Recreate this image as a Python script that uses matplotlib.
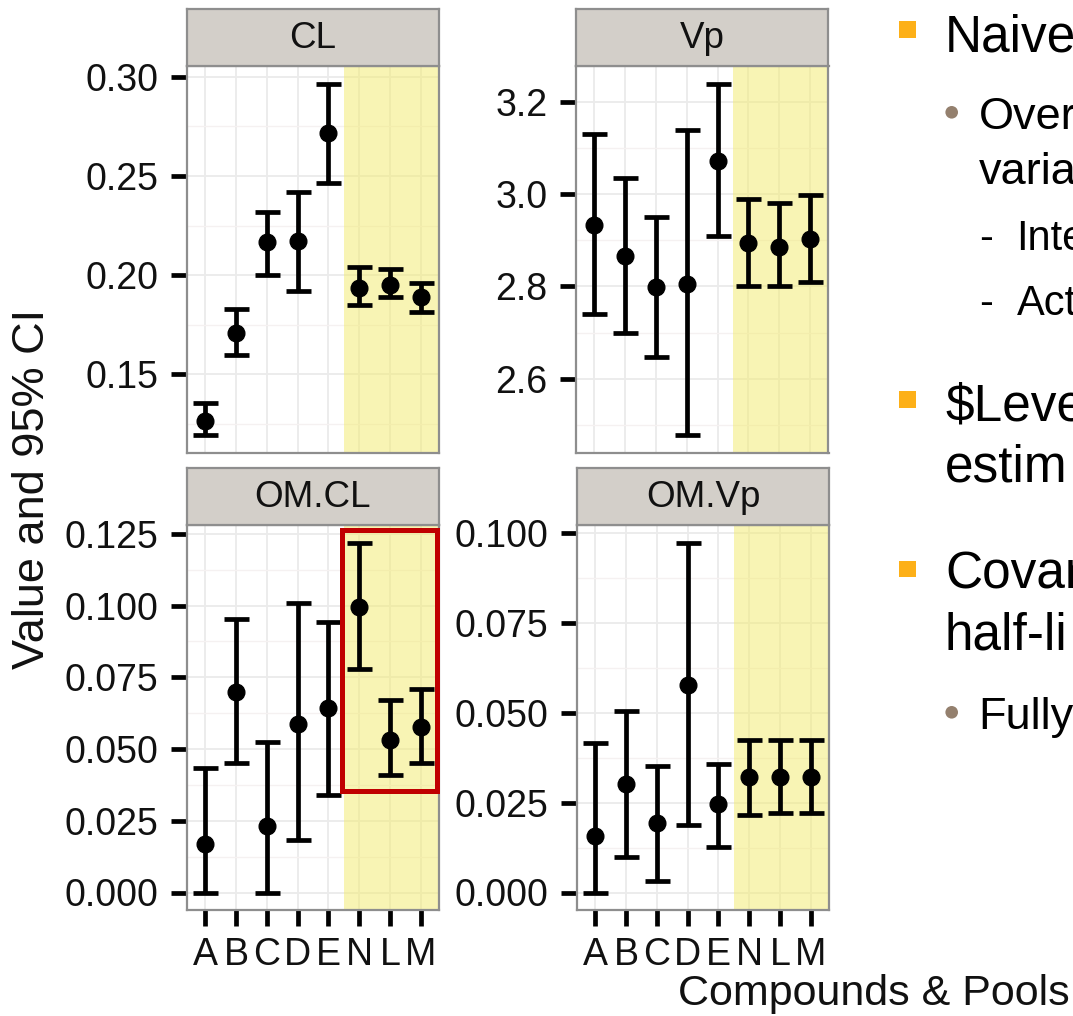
import matplotlib
matplotlib.use("Agg")
import matplotlib.pyplot as plt
from matplotlib.patches import Rectangle, Ellipse
import numpy as np

plt.rcParams['font.family'] = ['Liberation Sans', 'DejaVu Sans']

# ---------------- data ----------------
categories = ["A", "B", "C", "D", "E", "N", "L", "M"]

cl_est = [0.1265, 0.171, 0.2165, 0.2172, 0.2717, 0.1937, 0.1952, 0.1890]
cl_lo = [0.1193, 0.160, 0.2002, 0.1920, 0.2465, 0.1848, 0.1890, 0.1817]
cl_hi = [0.1358, 0.1832, 0.2320, 0.2420, 0.2965, 0.2040, 0.2032, 0.1960]

vp_est = [2.934, 2.865, 2.799, 2.805, 3.071, 2.895, 2.886, 2.904]
vp_lo = [2.741, 2.698, 2.646, 2.478, 2.909, 2.800, 2.800, 2.809]
vp_hi = [3.131, 3.036, 2.950, 3.139, 3.240, 2.990, 2.980, 2.998]

omcl_est = [0.0169, 0.0698, 0.0232, 0.0589, 0.0644, 0.0994, 0.0532, 0.0576]
omcl_lo = [0.0, 0.0450, 0.0, 0.0182, 0.0341, 0.0780, 0.0409, 0.0450]
omcl_hi = [0.0435, 0.0954, 0.0524, 0.1009, 0.0943, 0.1220, 0.0670, 0.0711]

omvp_est = [0.0156, 0.0303, 0.0194, 0.0578, 0.0245, 0.0321, 0.0321, 0.0321]
omvp_lo = [0.0, 0.0099, 0.0032, 0.0188, 0.0127, 0.0216, 0.0222, 0.0222]
omvp_hi = [0.0417, 0.0506, 0.0353, 0.0974, 0.0358, 0.0424, 0.0424, 0.0424]

panel_titles = ["CL", "Vp", "OM.CL", "OM.Vp"]
cl_ticks = [0.15, 0.20, 0.25, 0.30]
vp_ticks = [2.6, 2.8, 3.0, 3.2]
omcl_ticks = [0.000, 0.025, 0.050, 0.075, 0.100, 0.125]
omvp_ticks = [0.000, 0.025, 0.050, 0.075, 0.100]
tick_fmt = ["{:.2f}", "{:.1f}", "{:.3f}", "{:.3f}"]

y_label = "Value and 95% CI"
x_label = "Compounds & Pools"

pool_start = 5.5          # yellow band begins between E and N
highlight_x = (5.435, 8.54)
highlight_y = (0.0354, 0.1265)

slide_lines = [
    # (text, level)
    ("Naive", 1), ("Over", 2), ("varia", 2), ("Inte", 3), ("Act", 3),
    ("$Leve", 1), ("estim", 1), ("Covar", 1), ("half-li", 1), ("Fully", 2),
]

# ---------------- layout ----------------
W, H = 1073, 1016
fig = plt.figure(figsize=(W / 100, H / 100), dpi=100)
fig.patch.set_facecolor("white")


def px_axes(l, t, r, b):
    return fig.add_axes([l / W, 1 - b / H, (r - l) / W, (b - t) / H])


boxes = [(187, 66, 439, 453), (576, 66, 828.5, 452.5),
         (187, 525, 439, 910), (577, 525, 829, 910)]
series = [(cl_est, cl_lo, cl_hi, cl_ticks), (vp_est, vp_lo, vp_hi, vp_ticks),
          (omcl_est, omcl_lo, omcl_hi, omcl_ticks),
          (omvp_est, omvp_lo, omvp_hi, omvp_ticks)]

border = "#8E8E8E"
strip_fill = "#D3CFC9"
strip_h = 57
x = np.arange(1, len(categories) + 1)

axes = []
for i, (box, (est, lo, hi, ticks)) in enumerate(zip(boxes, series)):
    l, t, r, b = box
    ax = px_axes(l, t, r, b)
    axes.append(ax)
    est = np.array(est); lo = np.array(lo); hi = np.array(hi)
    ymin, ymax = lo.min(), hi.max()
    pad = 0.05 * (ymax - ymin)
    y0, y1 = ymin - pad, ymax + pad
    ax.set_axisbelow(True)

    # ticks & grid
    ax.set_yticks(ticks)
    ax.set_yticklabels([tick_fmt[i].format(v) for v in ticks])
    step = ticks[1] - ticks[0]
    minors = [v for v in [ticks[0] - step / 2] + [v + step / 2 for v in ticks]
              if y0 <= v <= y1]
    ax.set_yticks(minors, minor=True)
    ax.set_xticks(x)
    ax.set_ylim(y0, y1)
    ax.set_xlim(0.4, len(categories) + 0.6)
    ax.grid(True, which="major", color="#EBEBEB", lw=1.3)
    ax.grid(True, which="minor", axis="y", color="#F5F1F1", lw=1.0)
    ax.tick_params(axis="y", which="minor", length=0)

    ax.axvspan(pool_start, len(categories) + 0.6, color="#F3EB6B", alpha=0.5,
               lw=0, zorder=1)

    ax.errorbar(x, est, yerr=[est - lo, hi - est], fmt="o", color="black",
                ms=12, elinewidth=3.4, capsize=9, capthick=3.4, zorder=3)
    ax.set_ylim(y0, y1)

    for s in ax.spines.values():
        s.set_color(border)
        s.set_linewidth(1.6)
        s.set_zorder(4)

    ax.tick_params(axis="both", which="major", length=11.5, width=3.4,
                   color="black", labelsize=27, pad=9, labelcolor="#111111")
    if i < 2:
        ax.tick_params(axis="x", which="both", length=0, labelbottom=False)
    else:
        ax.set_xticklabels(categories)
        ax.tick_params(axis="x", labelsize=27, pad=8)

    # strip
    sax = px_axes(l, t - strip_h, r, t)
    sax.set_facecolor(strip_fill)
    sax.set_xticks([]); sax.set_yticks([])
    for s in sax.spines.values():
        s.set_color(border)
        s.set_linewidth(1.6)
    sax.text(0.5, 0.48, panel_titles[i], transform=sax.transAxes,
             ha="center", va="center", fontsize=26.5, color="#111111")

# red highlight box on OM.CL
axes[2].add_patch(Rectangle((highlight_x[0], highlight_y[0]),
                            highlight_x[1] - highlight_x[0],
                            highlight_y[1] - highlight_y[0],
                            fill=False, ec="#C00000", lw=3.6, clip_on=False,
                            zorder=6))

# axis labels
fig.text(33 / W, 1 - 489 / H, y_label, rotation=90, ha="center", va="center",
         fontsize=32.5, color="#111111")
fig.text(1070 / W, 1 - 1005 / H, x_label, ha="right", va="baseline",
         fontsize=31, color="#111111")

# ---------------- slide text on the right ----------------
baselines = [51.7, 129.3, 184.3, 250, 315, 420.7, 481.7, 588.3, 650, 729.3]
level_x = {1: 945.0, 2: 978.5, 3: 1016.5}
level_size = {1: 37, 2: 32.5, 3: 30}
for (txt, lvl), yb in zip(slide_lines, baselines):
    fig.text(level_x[lvl] / W, 1 - yb / H, txt, ha="left", va="baseline",
             fontsize=level_size[lvl], color="black", parse_math=False)
    if lvl == 3:
        fig.text(979 / W, 1 - yb / H, "-", ha="left", va="baseline",
                 fontsize=30, color="black")

# bullets
for cy in [29.3, 399.3, 568.7]:
    fig.patches.append(Rectangle((899.3 / W, 1 - (cy + 8.2) / H), 16.4 / W,
                                 16.4 / H, transform=fig.transFigure,
                                 color="#FDB018", lw=0))
for cy in [112.3, 712.3]:
    fig.patches.append(Ellipse((951.7 / W, 1 - cy / H), 12.6 / W, 12.6 / H,
                               transform=fig.transFigure,
                               color="#94806E", lw=0))

fig.savefig("out.png", dpi=100)
